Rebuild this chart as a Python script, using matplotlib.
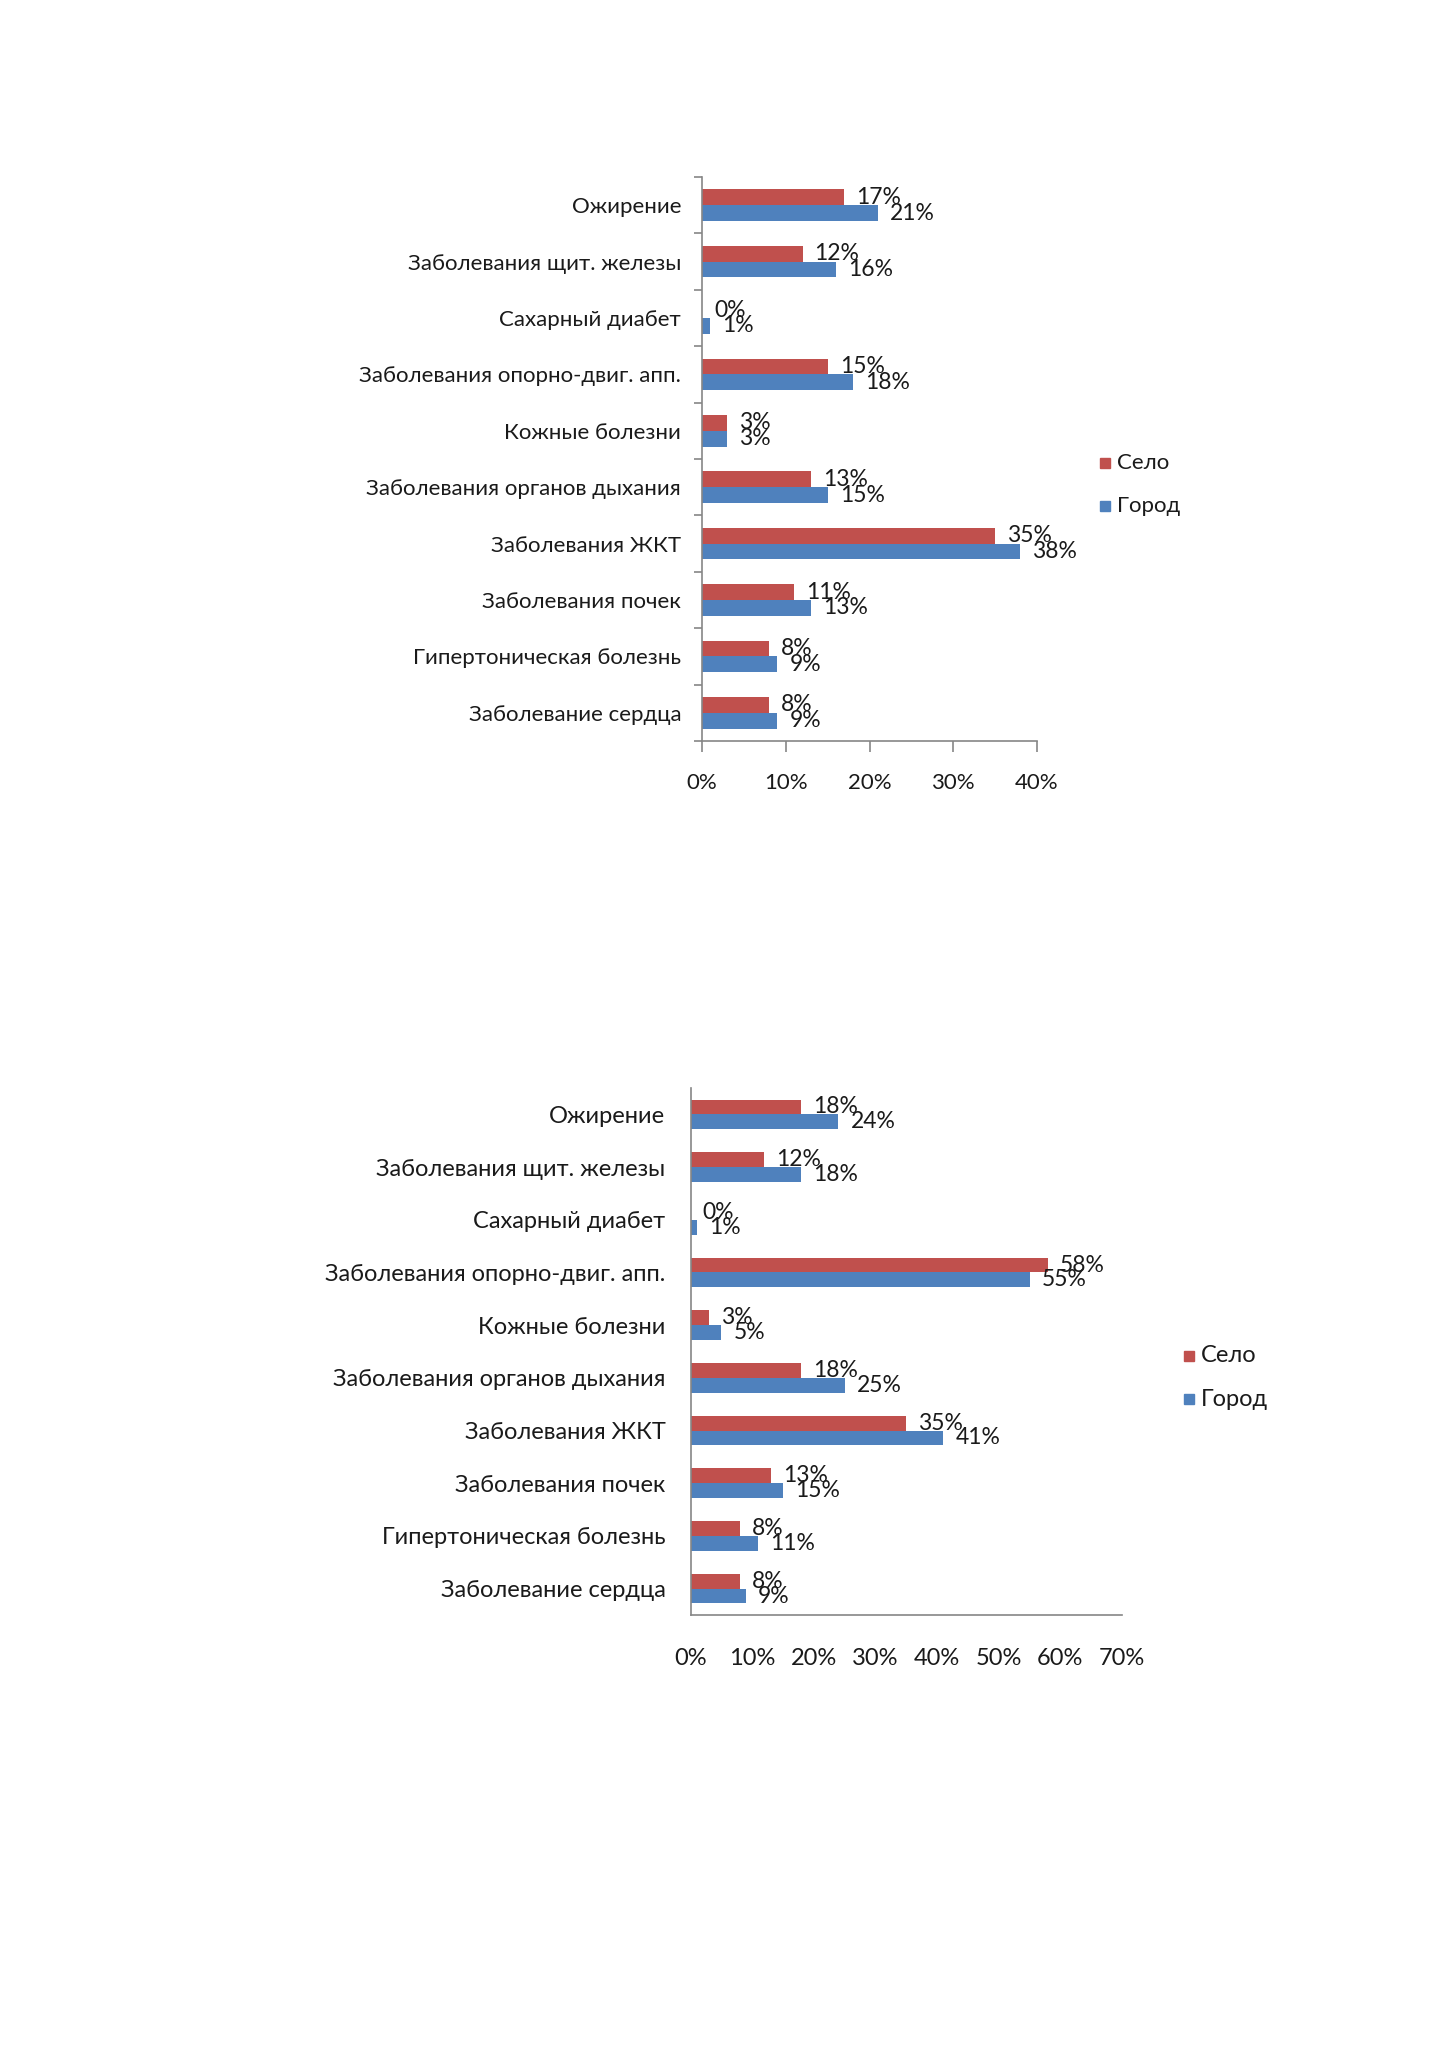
import matplotlib
matplotlib.use("Agg")
import matplotlib.pyplot as plt
from matplotlib.ticker import FuncFormatter
from matplotlib.patches import Rectangle
import numpy as np

plt.rcParams['font.family'] = ['Liberation Sans Narrow', 'Lato', 'DejaVu Sans']

categories = ["Заболевание сердца", "Гипертоническая болезнь", "Заболевания почек",
              "Заболевания ЖКТ", "Заболевания органов дыхания", "Кожные болезни",
              "Заболевания опорно-двиг. апп.", "Сахарный диабет",
              "Заболевания щит. железы", "Ожирение"]

# Chart 1
selo_1 = [8, 8, 11, 35, 13, 3, 15, 0, 12, 17]
gorod_1 = [9, 9, 13, 38, 15, 3, 18, 1, 16, 21]
xticks_1 = [0, 10, 20, 30, 40]

# Chart 2
selo_2 = [8, 8, 13, 35, 18, 3, 58, 0, 12, 18]
gorod_2 = [9, 11, 15, 41, 25, 5, 55, 1, 18, 24]
xticks_2 = [0, 10, 20, 30, 40, 50, 60, 70]

series_names = ["Село", "Город"]
RED = "#C0504D"
BLUE = "#4F81BD"
GRID = "#868686"
TXT = "#1a1a1a"

W, H = 1449, 2050
fig = plt.figure(figsize=(W / 100, H / 100), dpi=100)


def draw(rect, selo, gorod, xticks, ticks_on, cat_fs, lab_fs, legend_xy, lab_offset, ypad, xpad):
    ax = fig.add_axes(rect)
    y = np.arange(len(categories))
    h = 0.28
    ax.barh(y + h / 2, selo, height=h, color=RED, label=series_names[0])
    ax.barh(y - h / 2, gorod, height=h, color=BLUE, label=series_names[1])
    for yi, v in zip(y, selo):
        ax.annotate(f"{v}%", (v, yi + h / 2), xytext=(lab_offset, 0), textcoords="offset pixels",
                    va="center", ha="left", fontsize=lab_fs, color=TXT)
    for yi, v in zip(y, gorod):
        ax.annotate(f"{v}%", (v, yi - h / 2), xytext=(lab_offset, 0), textcoords="offset pixels",
                    va="center", ha="left", fontsize=lab_fs, color=TXT)
    ax.set_xlim(xticks[0], xticks[-1])
    ax.set_ylim(-0.5, len(categories) - 0.5)
    ax.set_xticks(xticks)
    ax.xaxis.set_major_formatter(FuncFormatter(lambda v, p: f"{int(round(v))}%"))
    ax.set_yticks(y)
    ax.set_yticklabels(categories, fontsize=cat_fs, color=TXT)
    for s in ["top", "right"]:
        ax.spines[s].set_visible(False)
    for s in ["left", "bottom"]:
        ax.spines[s].set_color(GRID)
        ax.spines[s].set_linewidth(1.2)
    if ticks_on:
        ax.set_yticks(np.arange(-0.5, len(categories), 1.0), minor=True)
        ax.tick_params(axis="y", which="major", length=0, pad=ypad)
        ax.tick_params(axis="y", which="minor", length=6, color=GRID, width=1.2, direction="out")
        ax.tick_params(axis="x", which="major", length=8, color=GRID, width=1.2, direction="out", pad=xpad,
                       labelsize=cat_fs, labelcolor=TXT)
    else:
        ax.tick_params(axis="y", which="major", length=0, pad=ypad)
        ax.tick_params(axis="x", which="major", length=0, pad=xpad, labelsize=cat_fs, labelcolor=TXT)
    # legend
    lx, ly1, ly2, tx = legend_xy
    for yy, col, name in [(ly1, RED, series_names[0]), (ly2, BLUE, series_names[1])]:
        fig.patches.append(Rectangle(((lx - 5) / W, 1 - (yy + 5) / H), 10 / W, 10 / H,
                                     transform=fig.transFigure, color=col))
        fig.text(tx / W, 1 - yy / H, name, va="center", ha="left", fontsize=cat_fs, color=TXT)
    return ax


draw([702 / W, 1 - 741 / H, 335 / W, (741 - 177) / H], selo_1, gorod_1, xticks_1, True,
     16, 16.5, (1105, 463, 506, 1117), 12, 15, 15)
draw([690.5 / W, 1 - 1615 / H, 431.5 / W, (1615 - 1088) / H], selo_2, gorod_2, xticks_2, False,
     17, 16.5, (1189, 1356, 1399, 1201), 12, 18, 24)

fig.savefig("out.png", dpi=100, facecolor="white")
